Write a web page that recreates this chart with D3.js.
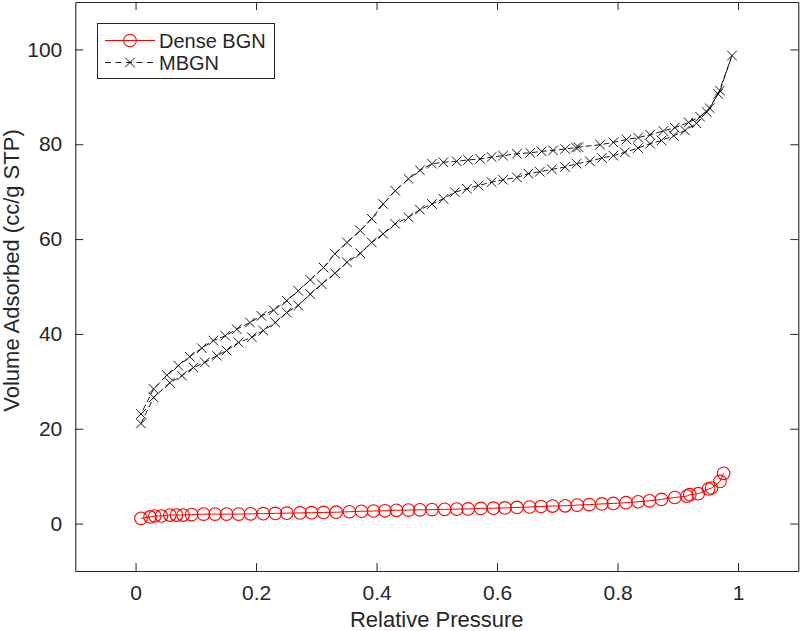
<!DOCTYPE html>
<html>
<head>
<meta charset="utf-8">
<script src="https://cdn.jsdelivr.net/npm/d3@7"></script>
<style>
  html, body { margin: 0; padding: 0; background: #fff; }
  svg { display: block; font-family: "Liberation Sans", Arial, Helvetica, sans-serif; }
</style>
</head>
<body>
<svg id="chart" width="800" height="631"></svg>
<script>
// ---------- data ----------
const xTicks = [0, 0.2, 0.4, 0.6, 0.8, 1];
const xTickLabels = ["0", "0.2", "0.4", "0.6", "0.8", "1"];
const yTicks = [0, 20, 40, 60, 80, 100];
const yTickLabels = ["0", "20", "40", "60", "80", "100"];

const seriesNames = ["Dense BGN", "MBGN"];

const denseX = [0.009, 0.024, 0.032, 0.043, 0.057, 0.068, 0.079, 0.093, 0.113, 0.132, 0.151, 0.171, 0.191, 0.212, 0.232, 0.251, 0.273, 0.292, 0.312, 0.333, 0.355, 0.375, 0.395, 0.414, 0.433, 0.453, 0.472, 0.492, 0.513, 0.533, 0.552, 0.573, 0.594, 0.613, 0.633, 0.654, 0.673, 0.692, 0.713, 0.733, 0.753, 0.774, 0.793, 0.814, 0.834, 0.853, 0.873, 0.895, 0.915, 0.920, 0.934, 0.951, 0.956, 0.970, 0.976];
const denseY = [1.1, 1.4, 1.6, 1.6, 1.8, 1.8, 1.8, 1.9, 2.0, 2.0, 2.0, 2.0, 2.05, 2.1, 2.15, 2.2, 2.25, 2.3, 2.35, 2.4, 2.5, 2.6, 2.65, 2.7, 2.8, 2.85, 2.9, 2.95, 3.0, 3.05, 3.1, 3.2, 3.25, 3.3, 3.4, 3.5, 3.6, 3.7, 3.75, 3.9, 4.0, 4.15, 4.25, 4.4, 4.6, 4.8, 5.1, 5.5, 5.8, 6.1, 6.3, 7.3, 7.5, 8.9, 10.6];

// MBGN adsorption branch (lower)
const mbgnAdsX = [0.009, 0.030, 0.057, 0.077, 0.096, 0.115, 0.135, 0.151, 0.171, 0.193, 0.212, 0.232, 0.251, 0.270, 0.290, 0.309, 0.331, 0.351, 0.373, 0.392, 0.411, 0.431, 0.453, 0.472, 0.492, 0.511, 0.530, 0.550, 0.569, 0.591, 0.610, 0.633, 0.652, 0.671, 0.691, 0.713, 0.732, 0.754, 0.774, 0.793, 0.812, 0.834, 0.854, 0.873, 0.893, 0.912, 0.931, 0.948, 0.967, 0.990];
const mbgnAdsY = [21.1, 26.6, 29.7, 31.2, 32.9, 34.0, 35.4, 36.5, 38.2, 39.3, 40.7, 42.4, 44.5, 46.0, 48.4, 50.5, 52.8, 55.1, 57.0, 59.3, 61.1, 63.2, 64.6, 66.2, 67.4, 68.5, 69.9, 70.6, 71.3, 72.0, 72.5, 73.0, 73.8, 74.2, 74.7, 75.2, 75.9, 76.4, 77.1, 77.6, 78.3, 79.2, 80.1, 80.8, 81.8, 82.9, 84.4, 86.8, 90.6, 98.7];

// MBGN desorption branch (upper), from high to low pressure
const mbgnDesX = [0.970, 0.953, 0.937, 0.918, 0.895, 0.876, 0.854, 0.834, 0.815, 0.793, 0.771, 0.735, 0.731, 0.713, 0.693, 0.674, 0.655, 0.633, 0.610, 0.591, 0.572, 0.552, 0.533, 0.511, 0.492, 0.472, 0.453, 0.431, 0.411, 0.392, 0.373, 0.351, 0.331, 0.312, 0.290, 0.270, 0.251, 0.229, 0.209, 0.190, 0.168, 0.149, 0.129, 0.110, 0.090, 0.071, 0.052, 0.030, 0.009];
const mbgnDesY = [91.3, 87.6, 85.8, 84.6, 83.5, 82.8, 82.0, 81.4, 81.0, 80.4, 79.9, 79.4, 79.3, 79.0, 78.7, 78.5, 78.2, 78.0, 77.6, 77.3, 76.9, 76.7, 76.4, 76.2, 75.9, 74.5, 72.7, 70.2, 67.4, 64.3, 61.8, 59.3, 56.9, 54.0, 51.4, 49.1, 47.0, 45.0, 43.8, 42.4, 41.0, 39.6, 38.6, 37.0, 35.2, 33.3, 31.3, 28.4, 23.1];

// ---------- chart ----------
const svg = d3.select("#chart");
const W = 800, H = 631;
const margin = { left: 75.3, right: 1.7, top: 2, bottom: 60 };

const x = d3.scaleLinear().domain([-0.1, 1.1]).range([margin.left, W - margin.right]);
const y = d3.scaleLinear().domain([-10, 110]).range([H - margin.bottom, margin.top]);

const axisColor = "#262626";
const tickFont = 21;

svg.append("rect").attr("width", W).attr("height", H).attr("fill", "#fff");

// axes (ticks inward, box on)
const tickLen = 8;
const gx = svg.append("g").attr("transform", `translate(0,${y(-10)})`)
  .call(d3.axisBottom(x).tickValues(xTicks).tickFormat((d, i) => xTickLabels[i])
    .tickSizeInner(-tickLen).tickSizeOuter(0).tickPadding(14));
const gxTop = svg.append("g").attr("transform", `translate(0,${y(110)})`)
  .call(d3.axisTop(x).tickValues(xTicks).tickFormat("")
    .tickSizeInner(-tickLen).tickSizeOuter(0));
const gy = svg.append("g").attr("transform", `translate(${x(-0.1)},0)`)
  .call(d3.axisLeft(y).tickValues(yTicks).tickFormat((d, i) => yTickLabels[i])
    .tickSizeInner(-tickLen).tickSizeOuter(0).tickPadding(13));
const gyRight = svg.append("g").attr("transform", `translate(${x(1.1)},0)`)
  .call(d3.axisRight(y).tickValues(yTicks).tickFormat("")
    .tickSizeInner(-tickLen).tickSizeOuter(0));

[gx, gxTop, gy, gyRight].forEach(g => {
  g.select(".domain").attr("stroke", axisColor).attr("stroke-width", 1.1);
  g.selectAll(".tick line").attr("stroke", axisColor).attr("stroke-width", 1);
  g.selectAll(".tick text").attr("fill", axisColor)
    .style("font-size", tickFont + "px")
    .style("font-family", '"Liberation Sans", Arial, sans-serif');
});

// axis titles
svg.append("text")
  .attr("x", (x(-0.1) + x(1.1)) / 2)
  .attr("y", 627)
  .attr("text-anchor", "middle")
  .attr("fill", axisColor)
  .style("font-size", "22px")
  .text("Relative Pressure");

svg.append("text")
  .attr("transform", `translate(19,${(y(-10) + y(110)) / 2 - 16}) rotate(-90)`)
  .attr("text-anchor", "middle")
  .attr("fill", axisColor)
  .style("font-size", "22px")
  .text("Volume Adsorbed (cc/g STP)");

// ---------- series ----------
const dense = denseX.map((v, i) => [v, denseY[i]]);
const mbgn = mbgnAdsX.map((v, i) => [v, mbgnAdsY[i]])
  .concat(mbgnDesX.map((v, i) => [v, mbgnDesY[i]]));

const line = d3.line().x(d => x(d[0])).y(d => y(d[1]));

const red = "#ff0000";
const black = "#000000";
const xr = 4.8; // half-size of x markers

// MBGN
svg.append("path").datum(mbgn)
  .attr("d", line).attr("fill", "none")
  .attr("stroke", black).attr("stroke-width", 0.9)
  .attr("stroke-dasharray", "6,3");
const xMarker = (g, px, py) => {
  g.append("path")
    .attr("d", `M${px - xr},${py - xr}L${px + xr},${py + xr}M${px - xr},${py + xr}L${px + xr},${py - xr}`)
    .attr("stroke", black).attr("stroke-width", 0.9).attr("fill", "none");
};
const gm = svg.append("g");
mbgn.forEach(d => xMarker(gm, x(d[0]), y(d[1])));

// Dense BGN
svg.append("path").datum(dense)
  .attr("d", line).attr("fill", "none")
  .attr("stroke", red).attr("stroke-width", 1);
svg.append("g").selectAll("circle").data(dense).join("circle")
  .attr("cx", d => x(d[0])).attr("cy", d => y(d[1])).attr("r", 6.3)
  .attr("fill", "none").attr("stroke", red).attr("stroke-width", 1.1);

// ---------- legend ----------
const lg = svg.append("g");
lg.append("rect").attr("x", 97.5).attr("y", 23.5).attr("width", 177).attr("height", 55)
  .attr("fill", "#fff").attr("stroke", axisColor).attr("stroke-width", 1);
const rows = [40.5, 62.5];
// Dense row
lg.append("line").attr("x1", 105).attr("x2", 155).attr("y1", rows[0]).attr("y2", rows[0])
  .attr("stroke", red).attr("stroke-width", 1);
lg.append("circle").attr("cx", 130).attr("cy", rows[0]).attr("r", 6.3)
  .attr("fill", "none").attr("stroke", red).attr("stroke-width", 1.1);
// MBGN row
lg.append("line").attr("x1", 105).attr("x2", 155).attr("y1", rows[1]).attr("y2", rows[1])
  .attr("stroke", black).attr("stroke-width", 0.9).attr("stroke-dasharray", "6,4.5");
xMarker(lg, 130, rows[1]);
seriesNames.forEach((n, i) => {
  lg.append("text").attr("x", 159).attr("y", rows[i]).attr("dy", "0.36em")
    .attr("fill", axisColor).style("font-size", "20px").text(n);
});
</script>
</body>
</html>
